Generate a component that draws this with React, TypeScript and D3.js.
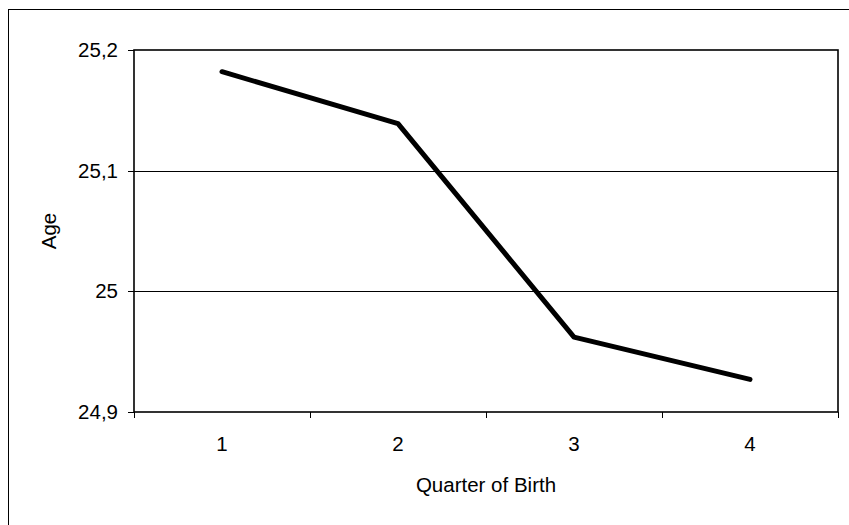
import React from "react";
import * as d3 from "d3";

const quarters = ["1", "2", "3", "4"];
const ages = [25.182, 25.139, 24.962, 24.927];
const yTicks = [24.9, 25.0, 25.1, 25.2];
const yTickLabels = ["24,9", "25", "25,1", "25,2"];
const xTitle = "Quarter of Birth";
const yTitle = "Age";

export default function App() {
  const W = 849, H = 525;
  const left = 134, right = 838, top = 50, bottom = 412;
  const x = d3.scaleBand<string>().domain(quarters).range([left, right]).padding(0);
  const y = d3.scaleLinear().domain([24.9, 25.2]).range([bottom, top]);
  const line = d3
    .line<number>()
    .x((_, i) => (x(quarters[i]) as number) + x.bandwidth() / 2)
    .y((d) => y(d));
  const font = "Arial, 'Liberation Sans', sans-serif";
  const boundaries = [...quarters.map((q) => x(q) as number), right];
  return (
    <svg
      width={W}
      height={H}
      style={{ position: "absolute", left: 0, top: 0, background: "#fff" }}
    >
      <rect x={8.5} y={9.5} width={900} height={600} fill="#fff" stroke="#000" strokeWidth={1} />
      {yTicks.slice(1, 3).map((t) => (
        <line key={t} x1={left} x2={right} y1={Math.round(y(t)) + 0.5} y2={Math.round(y(t)) + 0.5} stroke="#000" strokeWidth={1} />
      ))}
      <rect x={left} y={top} width={right - left} height={bottom - top} fill="none" stroke="#000" strokeWidth={1.6} />
      {yTicks.map((t, i) => (
        <g key={t}>
          <line x1={left - 6} x2={left} y1={Math.round(y(t)) + 0.5} y2={Math.round(y(t)) + 0.5} stroke="#000" strokeWidth={1} />
          <text x={left - 16} y={y(t) + 7} textAnchor="end" fontFamily={font} fontSize={20.5} fill="#000">
            {yTickLabels[i]}
          </text>
        </g>
      ))}
      {boundaries.map((b, i) => (
        <line key={i} x1={b + 0.5} x2={b + 0.5} y1={bottom} y2={bottom + 6} stroke="#000" strokeWidth={1} />
      ))}
      {quarters.map((q) => (
        <text key={q} x={(x(q) as number) + x.bandwidth() / 2} y={450.5} textAnchor="middle" fontFamily={font} fontSize={20.5} fill="#000">
          {q}
        </text>
      ))}
      <path d={line(ages) || ""} fill="none" stroke="#000" strokeWidth={5} strokeLinecap="round" strokeLinejoin="round" />
      <text x={(left + right) / 2} y={491.5} textAnchor="middle" fontFamily={font} fontSize={20.5} fill="#000">
        {xTitle}
      </text>
      <text transform={`translate(55.5,${(top + bottom) / 2}) rotate(-90)`} textAnchor="middle" fontFamily={font} fontSize={20.5} fill="#000">
        {yTitle}
      </text>
    </svg>
  );
}
